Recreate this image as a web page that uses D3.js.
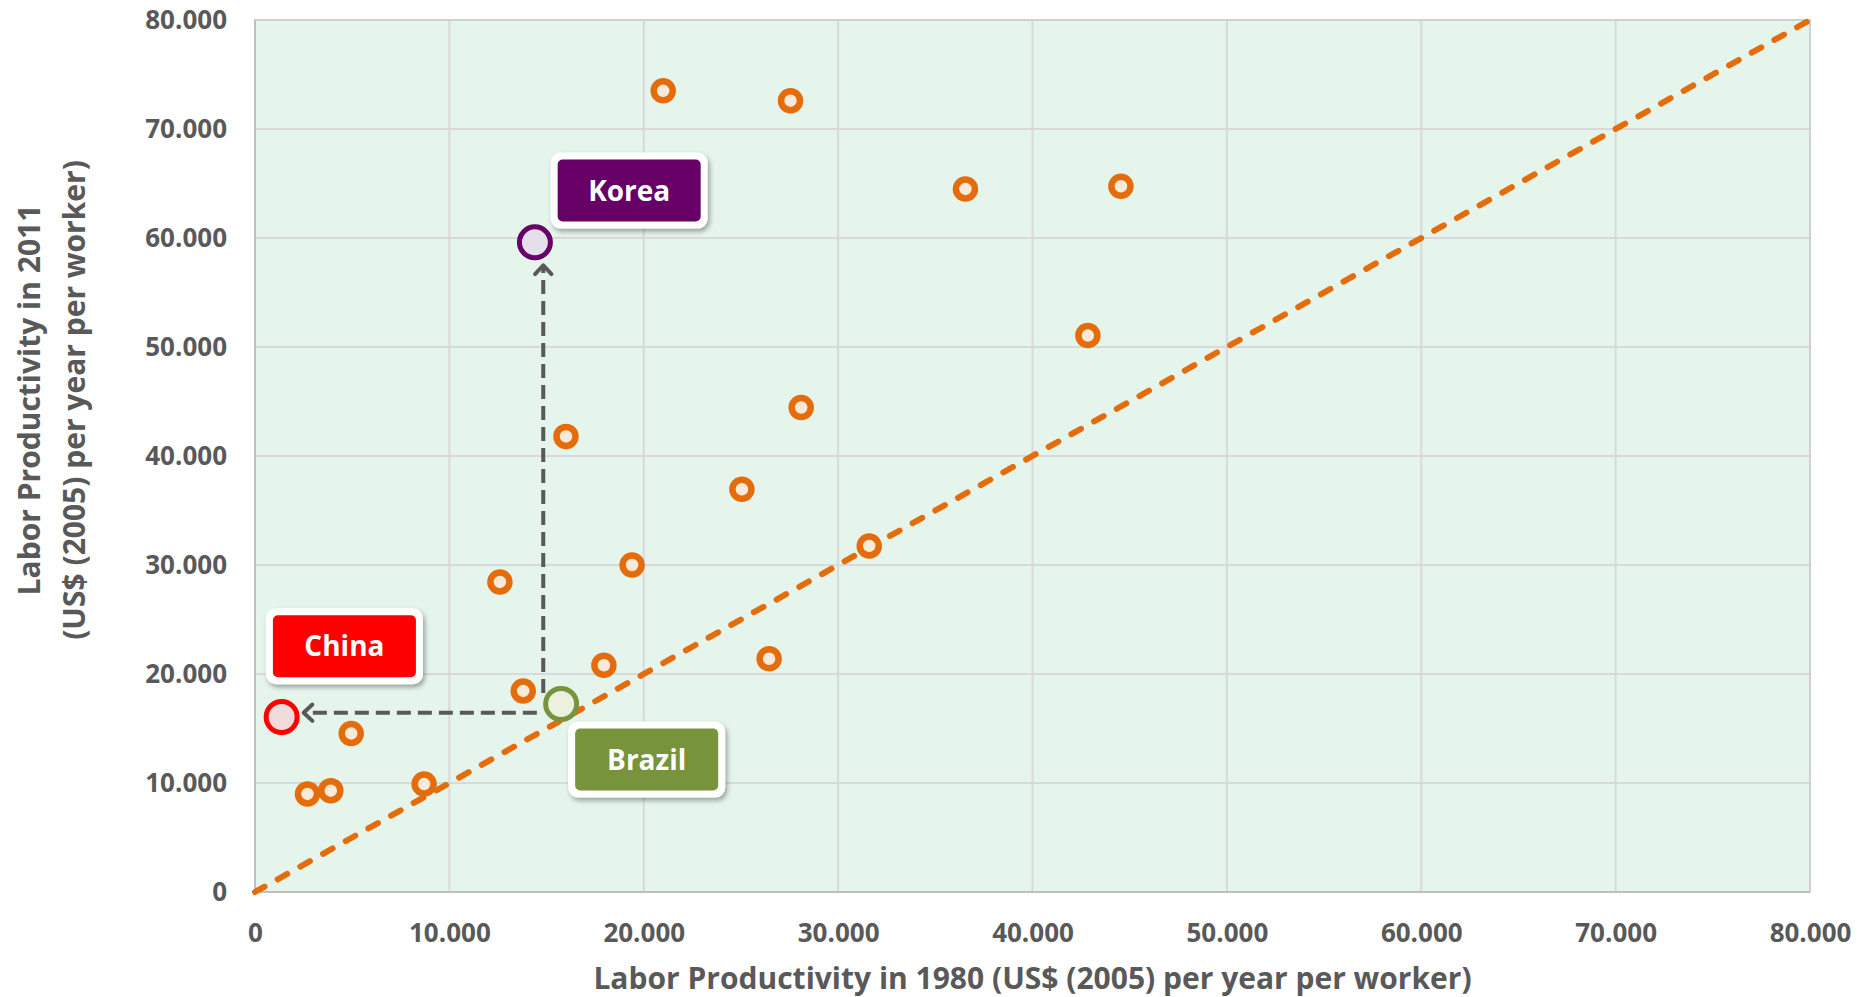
<!DOCTYPE html>
<meta charset="utf-8">
<style>
body { margin: 0; background: #fff; }
text { font-family: "Open Sans", Lato, sans-serif; font-weight: 700; fill: #595959; }
.tick text { font-size: 26px; }
.grid line { stroke: #d9d9d9; stroke-width: 2px; }
</style>
<svg width="1868" height="997"></svg>
<script src="https://cdn.jsdelivr.net/npm/d3@7"></script>
<script>

// labor productivity, US$ (2005) per worker
var x1980 = [21000, 27550, 36550, 44550, 42850, 28100, 16000, 25050, 19400, 31600, 12600, 17950, 26450, 13800, 4950, 8700, 2700, 3900];
var y2011 = [73500, 72600, 64500, 64750, 51050, 44450, 41800, 36950, 30000, 31750, 28450, 20800, 21400, 18450, 14550, 9900, 9000, 9300];

var hlNames = ["Korea", "China", "Brazil"];
var hlX = [14400, 1370, 15750];
var hlY = [59600, 16050, 17250];
var hlStroke = ["#660066", "#ff0000", "#77933c"];
var hlFill = ["#e5dfec", "#f2dcdb", "#ebf1de"];
// label box centres (data space)
var hlLabelX = [19250, 4600, 20150];
var hlLabelY = [64350, 22550, 12150];

var xTicks = d3.range(0, 80001, 10000);
var yTicks = d3.range(0, 80001, 10000);

var svg = d3.select("svg"),
    margin = {top: 20, right: 58, bottom: 105, left: 255},
    width = +svg.attr("width") - margin.left - margin.right,
    height = +svg.attr("height") - margin.top - margin.bottom;

var x = d3.scaleLinear().domain([0, 80000]).range([0, width]);
var y = d3.scaleLinear().domain([0, 80000]).range([height, 0]);
var fmt = function(d) { return d === 0 ? "0" : d3.format(",")(d).replace(/,/g, "."); };

var defs = svg.append("defs");
defs.append("filter").attr("id", "shadow")
    .attr("x", "-20%").attr("y", "-20%").attr("width", "140%").attr("height", "150%")
  .append("feDropShadow")
    .attr("dx", 2).attr("dy", 3).attr("stdDeviation", 2.5)
    .attr("flood-color", "#000").attr("flood-opacity", 0.35);

var g = svg.append("g").attr("transform", "translate(" + margin.left + "," + margin.top + ")");

g.append("rect")
    .attr("width", width).attr("height", height)
    .attr("fill", "#e5f5ec");

g.append("g").attr("class", "grid")
  .selectAll("line").data(xTicks.slice(1)).enter().append("line")
    .attr("x1", x).attr("x2", x).attr("y1", 0).attr("y2", height);
g.append("g").attr("class", "grid")
  .selectAll("line").data(yTicks.slice(1)).enter().append("line")
    .attr("y1", y).attr("y2", y).attr("x1", 0).attr("x2", width);

g.append("rect")
    .attr("width", width).attr("height", height)
    .attr("fill", "none").attr("stroke", "#d0d0d0").attr("stroke-width", 2);
g.append("line")
    .attr("x1", 0).attr("x2", width).attr("y1", height).attr("y2", height)
    .attr("stroke", "#bfbfbf").attr("stroke-width", 2);
g.append("line")
    .attr("x1", 0).attr("x2", 0).attr("y1", 0).attr("y2", height)
    .attr("stroke", "#bfbfbf").attr("stroke-width", 2);

var xAxis = g.append("g")
    .attr("transform", "translate(0," + height + ")")
    .call(d3.axisBottom(x).tickValues(xTicks).tickFormat(fmt).tickSize(0).tickPadding(32));
xAxis.select(".domain").remove();

var yAxis = g.append("g")
    .call(d3.axisLeft(y).tickValues(yTicks).tickFormat(fmt).tickSize(0).tickPadding(28));
yAxis.select(".domain").remove();

// 45 degree reference line
g.append("line")
    .attr("x1", x(0)).attr("y1", y(0)).attr("x2", x(80000)).attr("y2", y(80000))
    .attr("stroke", "#e46c0a").attr("stroke-width", 6)
    .attr("stroke-linecap", "round")
    .attr("stroke-dasharray", "11 15");

// arrows from Brazil
var arrowColor = "#595959";
function arrow(x0, y0, x1, y1) {
  var px0 = x(x0), py0 = y(y0), px1 = x(x1), py1 = y(y1);
  g.append("line")
      .attr("x1", px0).attr("y1", py0).attr("x2", px1).attr("y2", py1)
      .attr("stroke", arrowColor).attr("stroke-width", 4)
      .attr("stroke-dasharray", "14 7");
  var a = Math.atan2(py1 - py0, px1 - px0), s = 12;
  var pts = [
    [px1 - s * Math.cos(a - 0.75), py1 - s * Math.sin(a - 0.75)],
    [px1, py1],
    [px1 - s * Math.cos(a + 0.75), py1 - s * Math.sin(a + 0.75)]
  ];
  g.append("path")
      .attr("d", d3.line()(pts))
      .attr("fill", "none").attr("stroke", arrowColor).attr("stroke-width", 4)
      .attr("stroke-linecap", "round").attr("stroke-linejoin", "round");
}
arrow(14500, 16450, 2500, 16450);
arrow(14830, 18250, 14830, 57500);

g.append("g").selectAll("circle")
    .data(x1980.map(function(d, i) { return [d, y2011[i]]; }))
  .enter().append("circle")
    .attr("cx", function(d) { return x(d[0]); })
    .attr("cy", function(d) { return y(d[1]); })
    .attr("r", 9.5)
    .attr("fill", "#fde9d9")
    .attr("stroke", "#e46c0a")
    .attr("stroke-width", 6.5);

var hl = g.append("g").selectAll("g")
    .data(hlNames.map(function(n, i) { return i; }))
  .enter().append("g");

hl.append("circle")
    .attr("cx", function(i) { return x(hlX[i]); })
    .attr("cy", function(i) { return y(hlY[i]); })
    .attr("r", 15.5)
    .attr("fill", function(i) { return hlFill[i]; })
    .attr("stroke", function(i) { return hlStroke[i]; })
    .attr("stroke-width", 5);

var bw = 157, bh = 76;
var lab = hl.append("g")
    .attr("transform", function(i) { return "translate(" + x(hlLabelX[i]) + "," + y(hlLabelY[i]) + ")"; });
lab.append("rect")
    .attr("x", -bw / 2).attr("y", -bh / 2).attr("width", bw).attr("height", bh)
    .attr("rx", 10).attr("fill", "#fff")
    .attr("filter", "url(#shadow)");
lab.append("rect")
    .attr("x", -bw / 2 + 7).attr("y", -bh / 2 + 7).attr("width", bw - 14).attr("height", bh - 14)
    .attr("rx", 5)
    .attr("fill", function(i) { return hlStroke[i]; });
lab.append("text")
    .attr("text-anchor", "middle")
    .attr("dy", "0.36em")
    .style("font-size", "28px")
    .style("fill", "#fff")
    .text(function(i) { return hlNames[i]; });

svg.append("text")
    .attr("x", margin.left + width / 2)
    .attr("y", 989)
    .attr("text-anchor", "middle")
    .style("font-size", "30px")
    .text("Labor Productivity in 1980 (US$ (2005) per year per worker)");

var yt = svg.append("text")
    .attr("transform", "translate(0,400) rotate(-90)")
    .attr("text-anchor", "middle")
    .style("font-size", "30px");
yt.append("tspan").attr("x", 0).attr("y", 40).text("Labor Productivity in 2011");
yt.append("tspan").attr("x", 0).attr("y", 85).text("(US$ (2005) per year per worker)");

</script>
